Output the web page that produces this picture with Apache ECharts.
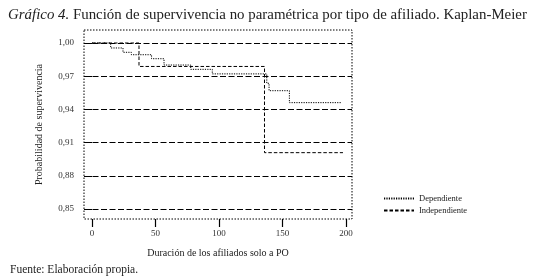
<!DOCTYPE html>
<html>
<head>
<meta charset="utf-8">
<script src="https://cdn.jsdelivr.net/npm/echarts@6/dist/echarts.min.js"></script>
<style>
  html, body { margin: 0; padding: 0; background: #fff; }
  #chart { width: 549px; height: 277px; }
</style>
</head>
<body>
<div id="chart"></div>
<script>
// datos (Kaplan-Meier)
const depTimes = [0, 14.7, 24.4, 31, 46.9, 56.7, 77.7, 94.7, 137.6, 139.4, 155.4, 196]
const depSurv = [1.0, 0.9955, 0.9916, 0.9894, 0.9858, 0.9801, 0.9762, 0.9721, 0.9636, 0.9569, 0.9461, 0.9461]
const indTimes = [0, 37, 135.8, 197.6]
const indSurv = [1.0, 0.9788, 0.9009, 0.9009]
const yTicks = [0.85, 0.88, 0.91, 0.94, 0.97, 1.0]
const xTicks = [0, 50, 100, 150, 200]

const serif = '"Liberation Serif", "DejaVu Serif", serif'
const fmtY = v => v.toFixed(2).replace('.', ',')

const chart = echarts.init(document.getElementById('chart'))

const option = {
  animation: false,
  backgroundColor: '#fff',
  title: [
    {
      text: '{i|Gráfico 4.} Función de supervivencia no paramétrica por tipo de afiliado. Kaplan-Meier',
      left: 3,
      top: 3,
      textStyle: {
        fontFamily: serif,
        fontSize: 14.9,
        fontWeight: 'normal',
        color: '#222',
        rich: {
          i: { fontFamily: serif, fontSize: 14.9, fontStyle: 'italic', color: '#222' }
        }
      }
    },
    {
      text: 'Fuente: Elaboración propia.',
      left: 5,
      top: 259,
      textStyle: { fontFamily: serif, fontSize: 11.5, fontWeight: 'normal', color: '#222' }
    }
  ],
  legend: {
    orient: 'vertical',
    left: 378,
    top: 189,
    itemWidth: 30,
    itemHeight: 8,
    itemGap: 3,
    itemStyle: { opacity: 0 },
    textStyle: { fontFamily: serif, fontSize: 8.5, color: '#222' },
    data: ['Dependiente', 'Independiente']
  },
  grid: {
    left: 84,
    top: 30,
    width: 268,
    height: 189,
    show: true,
    borderColor: '#000',
    borderWidth: 1,
    borderType: [1.5, 1.5],
    backgroundColor: 'transparent'
  },
  xAxis: {
    type: 'value',
    min: -6.3,
    max: 204.7,
    name: 'Duración de los afiliados solo a PO',
    nameLocation: 'middle',
    nameGap: 29,
    nameTextStyle: { fontFamily: serif, fontSize: 10, color: '#222' },
    axisLine: { show: false },
    splitLine: { show: false },
    axisTick: { show: true, length: 8, customValues: xTicks, lineStyle: { color: '#000', width: 1.2 } },
    axisLabel: { customValues: xTicks, fontFamily: serif, fontSize: 9, color: '#333', margin: 10 }
  },
  yAxis: {
    type: 'value',
    min: 0.84096,
    max: 1.01175,
    name: 'Probabilidad de supervivencia',
    nameLocation: 'middle',
    nameGap: 40,
    nameTextStyle: { fontFamily: serif, fontSize: 10, color: '#222' },
    axisLine: { show: false },
    splitLine: { show: false },
    axisTick: { show: true, length: 7, customValues: yTicks, lineStyle: { color: '#000', width: 1 } },
    axisLabel: { customValues: yTicks, formatter: fmtY, fontFamily: serif, fontSize: 9, color: '#333', margin: 10 }
  },
  series: [
    {
      name: 'Dependiente',
      type: 'line',
      step: 'end',
      symbol: 'none',
      data: depTimes.map((t, i) => [t, depSurv[i]]),
      lineStyle: { color: '#000', width: 1, type: [1.2, 1.2] },
      itemStyle: { color: '#000' },
      z: 4,
      markLine: {
        silent: true,
        symbol: 'none',
        label: { show: false },
        lineStyle: { color: '#000', width: 1, type: [6, 2.5] },
        data: yTicks.map(v => ({ yAxis: v }))
      }
    },
    {
      name: 'Independiente',
      type: 'line',
      step: 'end',
      symbol: 'none',
      data: indTimes.map((t, i) => [t, indSurv[i]]),
      lineStyle: { color: '#000', width: 1, type: [3.5, 2] },
      itemStyle: { color: '#000' },
      z: 3
    }
  ]
}

chart.setOption(option)
</script>
</body>
</html>
